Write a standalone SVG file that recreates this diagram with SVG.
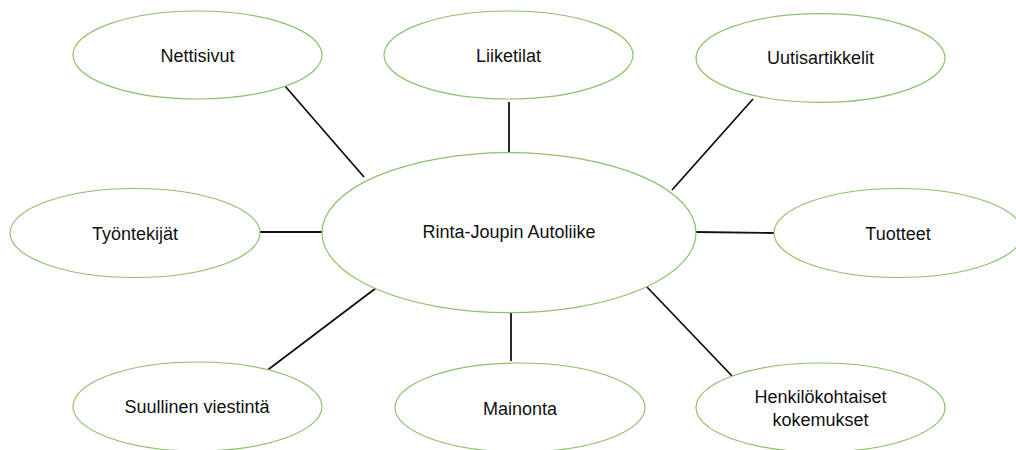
<svg xmlns="http://www.w3.org/2000/svg" width="1016" height="450" viewBox="0 0 1016 450">
<style>
.n{fill:#fff;stroke:#8cc16a;stroke-width:1.2}
.t{font-family:"Liberation Sans",Arial,sans-serif;font-size:18px;fill:#111;text-anchor:middle}
.c line{stroke:#111;stroke-width:1.8}
</style>
<rect width="1016" height="450" fill="#fff"/>
<g class="c" id="connectors">
<line x1="285" y1="86" x2="364" y2="177"/>
<line x1="509" y1="102" x2="509" y2="152"/>
<line x1="753" y1="99" x2="672" y2="190"/>
<line x1="260" y1="232" x2="322" y2="232"/>
<line x1="696" y1="232" x2="774" y2="233"/>
<line x1="376" y1="288" x2="265" y2="372"/>
<line x1="511" y1="312" x2="511" y2="361"/>
<line x1="647" y1="287" x2="733" y2="377"/>
</g>
<g id="center"><ellipse class="n" cx="509" cy="232.7" rx="187" ry="80"/><text class="t" x="509" y="238">Rinta-Joupin Autoliike</text></g>
<g id="nettisivut"><ellipse class="n" cx="197.5" cy="55" rx="124.5" ry="44"/><text class="t" x="197.5" y="61.5">Nettisivut</text></g>
<g id="liiketilat"><ellipse class="n" cx="508.5" cy="55" rx="124.5" ry="44"/><text class="t" x="508.5" y="61.5">Liiketilat</text></g>
<g id="uutisartikkelit"><ellipse class="n" cx="820.5" cy="58" rx="124.5" ry="44.3"/><text class="t" x="820.5" y="63.5">Uutisartikkelit</text></g>
<g id="tyontekijat"><ellipse class="n" cx="135" cy="233" rx="125" ry="44.5"/><text class="t" x="135" y="239.5">Työntekijät</text></g>
<g id="tuotteet"><ellipse class="n" cx="898.5" cy="233" rx="124.5" ry="44.5"/><text class="t" x="898" y="239.5">Tuotteet</text></g>
<g id="suullinen"><ellipse class="n" cx="197.5" cy="406.5" rx="124.5" ry="44.5"/><text class="t" x="197" y="413">Suullinen viestintä</text></g>
<g id="mainonta"><ellipse class="n" cx="520" cy="407.5" rx="125" ry="44.5"/><text class="t" x="520" y="415">Mainonta</text></g>
<g id="henkilokohtaiset"><ellipse class="n" cx="820.5" cy="407.5" rx="124.5" ry="44.5"/><text class="t" x="820.5" y="403">Henkilökohtaiset</text><text class="t" x="820.5" y="426">kokemukset</text></g>
</svg>
